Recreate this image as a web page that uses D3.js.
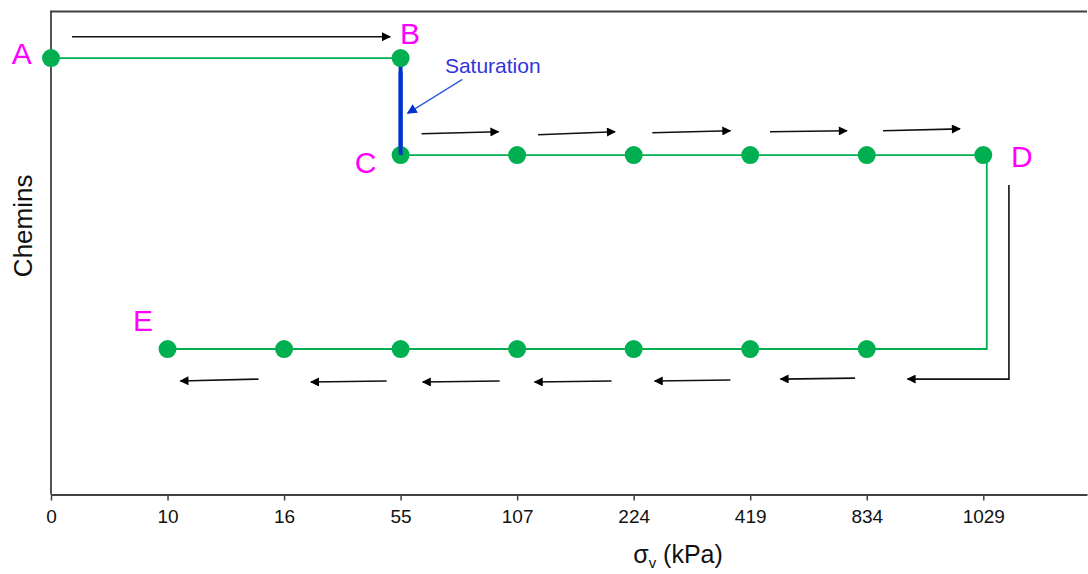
<!DOCTYPE html>
<html><head><meta charset="utf-8">
<script src="https://cdn.jsdelivr.net/npm/d3@7"></script>
<style>body{margin:0;background:#fff}svg{display:block;font-family:"Liberation Sans",Arial,sans-serif}</style>
</head><body><svg id="c" width="1088" height="574"></svg>
<script>
// categories (σv in kPa)
const tickLabels = ["0","10","16","55","107","224","419","834","1029"];
// path points: [category index, path level]
const pathAB = [[0,4.5],[3,4.5]];
const pathBC = [[3,4.5],[3,3.5]];
const pathCD = [[3,3.5],[4,3.5],[5,3.5],[6,3.5],[7,3.5],[8,3.5]];
const pathDE = [[8,3.5],[8.03,3.5],[8.03,1.5],[7,1.5],[6,1.5],[5,1.5],[4,1.5],[3,1.5],[2,1.5],[1,1.5]];
const dotsRow1 = [[0,4.5],[3,4.5]];
const dotsRow2 = [[3,3.5],[4,3.5],[5,3.5],[6,3.5],[7,3.5],[8,3.5]];
const dotsRow3 = [[1,1.5],[2,1.5],[3,1.5],[4,1.5],[5,1.5],[6,1.5],[7,1.5]];
const pointLabels = [["A",-0.25,4.55],["B",3.08,4.76],["C",2.70,3.43],["D",8.33,3.49],["E",0.79,1.80]];
// direction arrows: [x0,y0,x1,y1]
const arrowsTop = [[0.18,4.72,2.91,4.72]];
const arrowsMid = [[3.18,3.72,3.84,3.74],[4.18,3.71,4.84,3.74],[5.16,3.73,5.83,3.75],[6.17,3.74,6.83,3.75],[7.14,3.75,7.80,3.77]];
const arrowsLow = [[1.78,1.19,1.11,1.17],[2.88,1.17,2.23,1.16],[3.85,1.17,3.19,1.16],[4.81,1.17,4.15,1.16],[5.83,1.18,5.18,1.17],[6.90,1.2,6.26,1.19]];
const arrowBent = [[8.22,3.19],[8.22,1.19],[7.35,1.19]];

const svg = d3.select("#c");
const x = d3.scaleLinear().domain([0,8.89]).range([51,1087]);
const y = d3.scaleLinear().domain([0,4.98]).range([494.5,11.5]);

const defs = svg.append("defs");
defs.append("marker").attr("id","ah").attr("viewBox","0 0 10 10")
  .attr("refX",9).attr("refY",5).attr("markerWidth",12).attr("markerHeight",9)
  .attr("markerUnits","userSpaceOnUse").attr("orient","auto")
  .append("path").attr("d","M0,0L10,5L0,10Z").attr("fill","#000");
defs.append("marker").attr("id","ahb").attr("viewBox","0 0 10 10")
  .attr("refX",9).attr("refY",5).attr("markerWidth",11).attr("markerHeight",10)
  .attr("markerUnits","userSpaceOnUse").attr("orient","auto")
  .append("path").attr("d","M0,0L10,5L0,10Z").attr("fill","#0033cc");

// frame
svg.append("line").attr("x1",x(0)).attr("x2",x(8.89)).attr("y1",y(4.98)).attr("y2",y(4.98))
  .attr("stroke","#404040").attr("stroke-width",1.8);
const ax = svg.append("g").attr("transform",`translate(0,${y(0)})`)
  .call(d3.axisBottom(x).tickValues(d3.range(tickLabels.length)).tickFormat(i=>tickLabels[i]).tickSizeOuter(0).tickSizeInner(6).tickPadding(9));
ax.select(".domain").attr("stroke","#404040").attr("stroke-width",1.8);
ax.selectAll(".tick line").attr("stroke","#404040").attr("stroke-width",1.5);
ax.selectAll(".tick text").attr("font-size",19).attr("fill","#111").attr("font-family","Liberation Sans, Arial, sans-serif");
svg.append("line").attr("x1",x(0)).attr("x2",x(0)).attr("y1",y(4.98)-0.9).attr("y2",y(0))
  .attr("stroke","#404040").attr("stroke-width",1.8);

const line = d3.line().x(d=>x(d[0])).y(d=>y(d[1]));
const green = "#00b050";
[pathAB,pathCD].forEach(p=>svg.append("path").attr("d",line(p)).attr("fill","none")
  .attr("stroke",green).attr("stroke-width",1.8));
svg.append("path").attr("d",line(pathDE)).attr("fill","none").attr("stroke",green).attr("stroke-width",1.8);
svg.append("path").attr("d",line(pathBC)).attr("fill","none").attr("stroke","#0033cc").attr("stroke-width",4);

svg.selectAll("circle.d").data([...dotsRow1,...dotsRow2,...dotsRow3]).join("circle")
  .attr("cx",d=>x(d[0])).attr("cy",d=>y(d[1])).attr("r",9).attr("fill",green);
svg.append("path").attr("d",line([[3,4.36],[3,3.5]])).attr("fill","none").attr("stroke","#0033cc").attr("stroke-width",4);

// arrows
[...arrowsTop,...arrowsMid,...arrowsLow].forEach(a=>{
  svg.append("line").attr("x1",x(a[0])).attr("y1",y(a[1])).attr("x2",x(a[2])).attr("y2",y(a[3]))
    .attr("stroke","#111").attr("stroke-width",1.6).attr("marker-end","url(#ah)");
});
svg.append("path").attr("d",line(arrowBent)).attr("fill","none").attr("stroke","#111")
  .attr("stroke-width",1.6).attr("marker-end","url(#ah)");

// point labels
svg.selectAll("text.pl").data(pointLabels).join("text")
  .attr("x",d=>x(d[1])).attr("y",d=>y(d[2])).attr("dy","0.36em").attr("text-anchor","middle")
  .attr("font-size",30).attr("fill","#ff00ff").text(d=>d[0]);

// saturation annotation
svg.append("text").attr("x",x(3.38)).attr("y",y(4.345)).attr("font-size",21).attr("fill","#3333dd").text("Saturation");
svg.append("line").attr("x1",x(3.53)).attr("y1",y(4.28)).attr("x2",x(3.06)).attr("y2",y(3.93))
  .attr("stroke","#2f5fe0").attr("stroke-width",1.4).attr("marker-end","url(#ahb)");

// axis titles
const t = svg.append("text").attr("x",678).attr("y",563).attr("text-anchor","middle").attr("font-size",25).attr("fill","#111");
t.append("tspan").text("σ");
t.append("tspan").attr("font-size",15).attr("dy",5).text("v");
t.append("tspan").attr("dy",-5).text(" (kPa)");
svg.append("text").attr("transform",`translate(32,${y(2.77)}) rotate(-90)`).attr("text-anchor","middle")
  .attr("font-size",26).attr("fill","#111").text("Chemins");
</script></body></html>
